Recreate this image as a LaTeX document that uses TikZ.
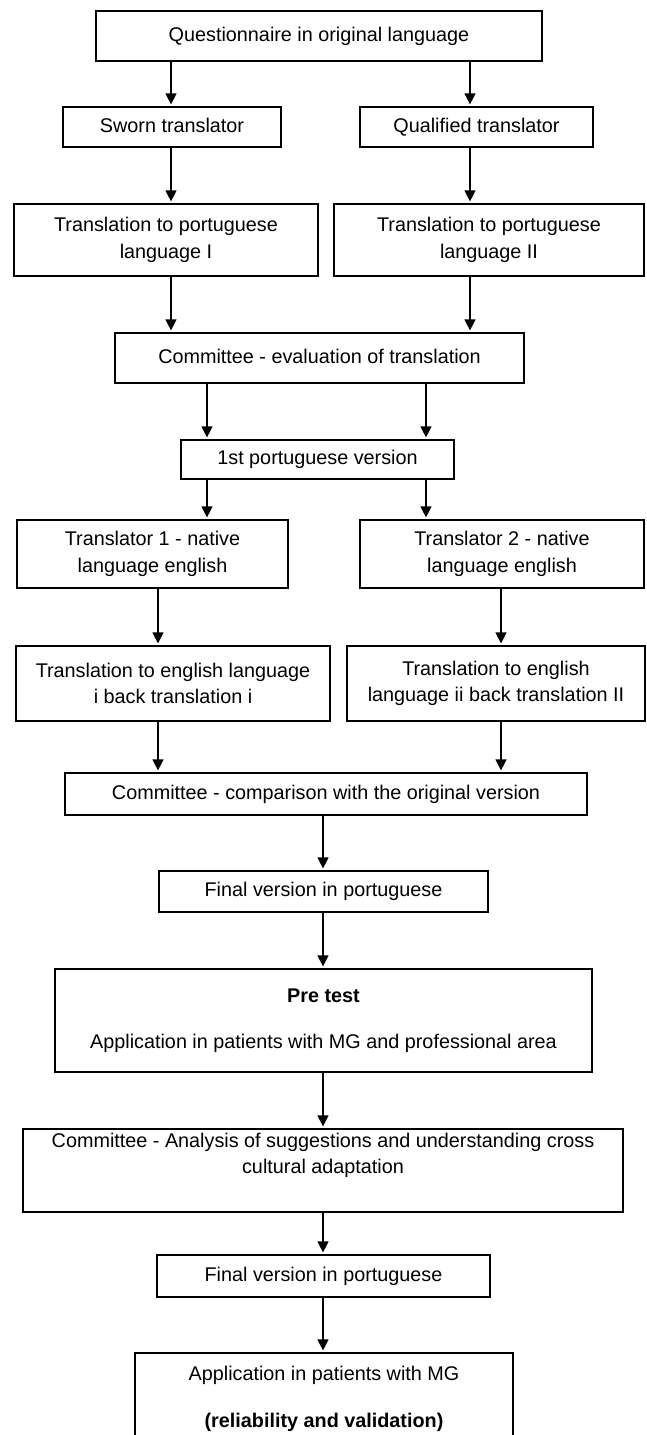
\documentclass[tikz,border=0pt]{standalone}
\usepackage{fontspec}
\setmainfont{Liberation Sans}
\usetikzlibrary{arrows.meta}

\tikzset{
  box/.style={draw, line width=1.2pt, align=center, inner sep=0pt,
    font=\fontsize{19.8}{26.5}\selectfont},
  oneline/.style={box, text height=14pt, text depth=4pt},
  arr/.style={-{Triangle[length=11pt,width=11pt]}, line width=1.2pt, shorten >=2pt}
}

\begin{document}
\begin{tikzpicture}[x=1pt,y=-1pt]
\useasboundingbox (0,0) rectangle (646,1435);
\fill[white] (0,0) rectangle (646,1435);

% columns of the arrows
\coordinate (colA) at (171,0);
\coordinate (colB) at (470,0);
\coordinate (colC) at (207,0);
\coordinate (colD) at (426,0);
\coordinate (colE) at (158,0);
\coordinate (colF) at (501,0);
\coordinate (colM) at (323,0);

% boxes
\node[oneline, minimum width=446pt, minimum height=50pt] (quest) at (319,36) {Questionnaire in original language};
\node[oneline, minimum width=218pt, minimum height=40pt] (sworn) at (172,127) {Sworn translator};
\node[oneline, minimum width=233pt, minimum height=40pt] (qual) at (476.5,127) {Qualified translator};
\node[box, minimum width=304pt, minimum height=72pt] (port1) at (166,240) {Translation to portuguese\\language I};
\node[box, minimum width=310pt, minimum height=72pt] (port2) at (489,240) {Translation to portuguese\\language II};
\node[oneline, minimum width=409pt, minimum height=50pt] (comeval) at (319.5,358) {Committee - evaluation of translation};
\node[oneline, minimum width=273pt, minimum height=39pt] (first) at (317.5,459.5) {1st portuguese version};
\node[box, minimum width=271pt, minimum height=68pt] (nat1) at (152.5,554) {Translator 1 - native\\language english};
\node[box, minimum width=284pt, minimum height=68pt] (nat2) at (502,554) {Translator 2 - native\\language english};
\node[box, minimum width=314pt, minimum height=75pt] (back1) at (173,683.5) {Translation to english language\\i back translation i};
\node[box, minimum width=298pt, minimum height=75pt] (back2) at (496,683.5) {Translation to english\\language ii back translation II};
\node[oneline, minimum width=522pt, minimum height=42pt] (comcomp) at (326,794) {Committee - comparison with the original version};
\node[oneline, minimum width=329pt, minimum height=41pt] (final1) at (323.5,891.5) {Final version in portuguese};
\node[box, minimum width=537pt, minimum height=103pt] (pretest) at (323.5,1020.5) {\textbf{Pre test}\\[20pt]Application in patients with MG and professional area};
\node[box, minimum width=600pt, minimum height=83pt] (comadapt) at (323,1170.5) {Committee - Analysis of suggestions and understanding cross\\cultural adaptation\\\strut};
\node[oneline, minimum width=333pt, minimum height=42pt] (final2) at (323.5,1276) {Final version in portuguese};
\node[box, minimum width=378pt, minimum height=92pt] (apply) at (324,1399) {Application in patients with MG\\[20pt]\textbf{(reliability and validation)}};

% arrows
\draw[arr] (quest.south -| colA) -- (sworn.north -| colA);
\draw[arr] (quest.south -| colB) -- (qual.north -| colB);
\draw[arr] (sworn.south -| colA) -- (port1.north -| colA);
\draw[arr] (qual.south -| colB) -- (port2.north -| colB);
\draw[arr] (port1.south -| colA) -- (comeval.north -| colA);
\draw[arr] (port2.south -| colB) -- (comeval.north -| colB);
\draw[arr] (comeval.south -| colC) -- (first.north -| colC);
\draw[arr] (comeval.south -| colD) -- (first.north -| colD);
\draw[arr] (first.south -| colC) -- (nat1.north -| colC);
\draw[arr] (first.south -| colD) -- (nat2.north -| colD);
\draw[arr] (nat1.south -| colE) -- (back1.north -| colE);
\draw[arr] (nat2.south -| colF) -- (back2.north -| colF);
\draw[arr] (back1.south -| colE) -- (comcomp.north -| colE);
\draw[arr] (back2.south -| colF) -- (comcomp.north -| colF);
\draw[arr] (comcomp.south -| colM) -- (final1.north -| colM);
\draw[arr] (final1.south -| colM) -- (pretest.north -| colM);
\draw[arr] (pretest.south -| colM) -- (comadapt.north -| colM);
\draw[arr] (comadapt.south -| colM) -- (final2.north -| colM);
\draw[arr] (final2.south -| colM) -- (apply.north -| colM);
\end{tikzpicture}
\end{document}
